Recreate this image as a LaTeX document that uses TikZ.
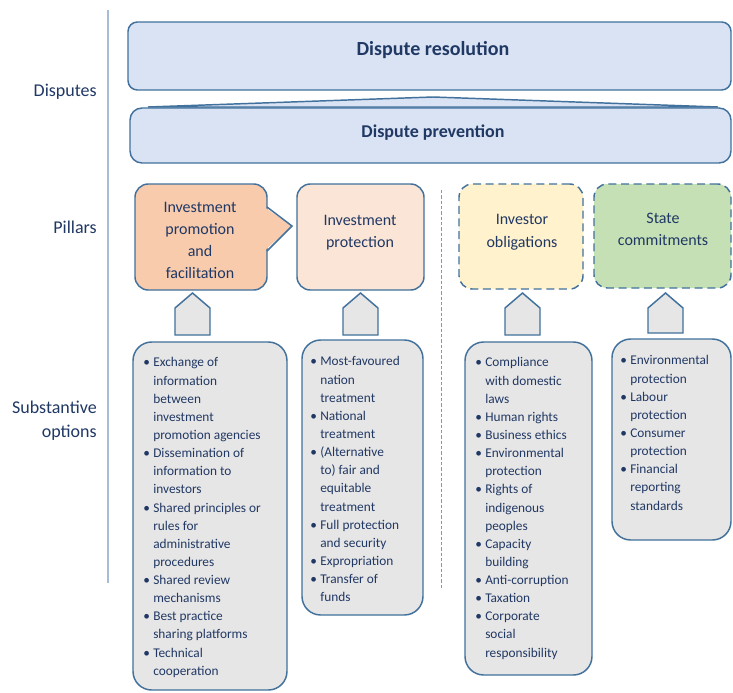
\documentclass[tikz,border=0pt]{standalone}
\usepackage{fontspec}
\setmainfont{Carlito}
\usetikzlibrary{fit}
\definecolor{bordc}{HTML}{41719C}
\definecolor{txtc}{HTML}{203864}
\definecolor{blueF}{HTML}{DAE3F3}
\definecolor{orangeF}{HTML}{F8CBAD}
\definecolor{peachF}{HTML}{FBE5D6}
\definecolor{yellowF}{HTML}{FFF2CC}
\definecolor{greenF}{HTML}{C5E0B4}
\definecolor{greyF}{HTML}{E7E6E6}
\definecolor{sideln}{HTML}{A9BCD6}
\newcommand\bul{\makebox[7.5pt][l]{\textbullet}}
\newcommand\ind{\hspace*{7.5pt}}
\tikzset{
  blk/.style={draw=bordc, line width=1.1pt, inner sep=0pt},
  dashblk/.style={blk, dash pattern=on 6pt off 3.5pt},
  pent/.style={draw=bordc, line width=1.1pt, fill=greyF, line join=miter},
  headtxt/.style={text=txtc, inner sep=0pt, font=\bfseries},
  pillartxt/.style={text=txtc, inner sep=0pt, align=center, font=\fontsize{12}{16.7}\selectfont},
  listtxt/.style={text=txtc, inner sep=0pt, align=left, anchor=north west, font=\fontsize{10}{13.6}\selectfont},
  sidetxt/.style={text=txtc, inner sep=0pt, anchor=east, align=right, font=\fontsize{13.5}{18}\selectfont},
}
\begin{document}
\begin{tikzpicture}[x=0.75pt,y=-0.75pt]
\useasboundingbox (0,0) rectangle (733,693);
\fill[white] (0,0) rectangle (733,693);

% side line and labels
\coordinate (slTop) at (108,10);
\coordinate (slBot) at (108,583);
\draw[sideln, line width=0.9pt] (slTop) -- (slBot);
\node[sidetxt] (lDisp) at (97,92) {Disputes};
\node[sidetxt] (lPill) at (97,227) {Pillars};
\node[sidetxt] (lSubs) at (97,421) {Substantive\\options};

% disputes
\node[blk, fill=blueF, rounded corners=7pt, fit={(128,22)(731,90)}] (res) {};
\node[headtxt, font=\fontsize{15}{18}\bfseries\selectfont] (resT) at (433,50) {Dispute resolution};
\draw[blk, fill=blueF, line join=miter] (148,107) -- (433,97) -- (718,107) -- cycle;
\node[blk, fill=blueF, rounded corners=9pt, fit={(130,108)(731,163)}] (prev) {};
\node[headtxt, font=\fontsize{13.5}{16}\bfseries\selectfont] (prevT) at (433,133) {Dispute prevention};

% pillars
\node[blk, fill=orangeF, rounded corners=10pt, fit={(135,184)(267,290)}] (ipf) {};
\fill[orangeF] (264,207) -- (292,226) -- (264,251) -- cycle;
\draw[bordc, line width=1.1pt, line join=miter] (267,207) -- (292,226) -- (267,251);
\node[blk, fill=peachF, rounded corners=10pt, fit={(297,184)(424,290)}] (ip) {};
\node[dashblk, fill=yellowF, rounded corners=10pt, fit={(459,184)(583,289)}] (io) {};
\node[dashblk, fill=greenF, rounded corners=10pt, fit={(594,184)(731,288)}] (sc) {};

\node[pillartxt] (ipfT) at (200,241) {\strut Investment\\\strut promotion\\\strut and\\\strut facilitation};
\node[pillartxt] (ipT) at (360,232) {\strut Investment\\\strut protection};
\node[pillartxt] (ioT) at (522,231.5) {\strut Investor\\\strut obligations};
\node[pillartxt] (scT) at (663,230) {\strut State\\\strut commitments};

% divider
\coordinate (dvTop) at (441,190);
\coordinate (dvBot) at (441,588);
\draw[bordc!70, line width=0.6pt, dash pattern=on 2.5pt off 1.5pt] (dvTop) -- (dvBot);

% up arrows
\foreach \cx/\by in {192.5/335, 360.5/335, 522.5/335, 665.5/333}{
  \draw[pent] ({\cx-17.5},\by) -- ({\cx-17.5},308) -- (\cx,293) -- ({\cx+17.5},308) -- ({\cx+17.5},\by) -- cycle;
}

% substantive boxes
\node[blk, fill=greyF, rounded corners=14pt, fit={(133,342)(287,690)}] (s1) {};
\node[blk, fill=greyF, rounded corners=14pt, fit={(302,340)(423,615)}] (s2) {};
\node[blk, fill=greyF, rounded corners=14pt, fit={(465,342)(592,675)}] (s3) {};
\node[blk, fill=greyF, rounded corners=14pt, fit={(612,339)(731,540)}] (s4) {};

\node[listtxt] (s1T) at (143,354) {\strut\bul Exchange of\\\ind information\\\ind between\\\ind investment\\\ind promotion agencies\\\bul Dissemination of\\\ind information to\\\ind investors\\\bul Shared principles or\\\ind rules for\\\ind administrative\\\ind procedures\\\bul Shared review\\\ind mechanisms\\\bul Best practice\\\ind sharing platforms\\\bul Technical\\\ind cooperation};
\node[listtxt] (s2T) at (310,353) {\strut\bul Most-favoured\\\ind nation\\\ind treatment\\\bul National\\\ind treatment\\\bul (Alternative\\\ind to) fair and\\\ind equitable\\\ind treatment\\\bul Full protection\\\ind and security\\\bul Expropriation\\\bul Transfer of\\\ind funds};
\node[listtxt] (s3T) at (475,354) {\strut\bul Compliance\\\ind with domestic\\\ind laws\\\bul Human rights\\\bul Business ethics\\\bul Environmental\\\ind protection\\\bul Rights of\\\ind indigenous\\\ind peoples\\\bul Capacity\\\ind building\\\bul Anti-corruption\\\bul Taxation\\\bul Corporate\\\ind social\\\ind responsibility};
\node[listtxt] (s4T) at (620,352) {\strut\bul Environmental\\\ind protection\\\bul Labour\\\ind protection\\\bul Consumer\\\ind protection\\\bul Financial\\\ind reporting\\\ind standards};
\end{tikzpicture}
\end{document}
